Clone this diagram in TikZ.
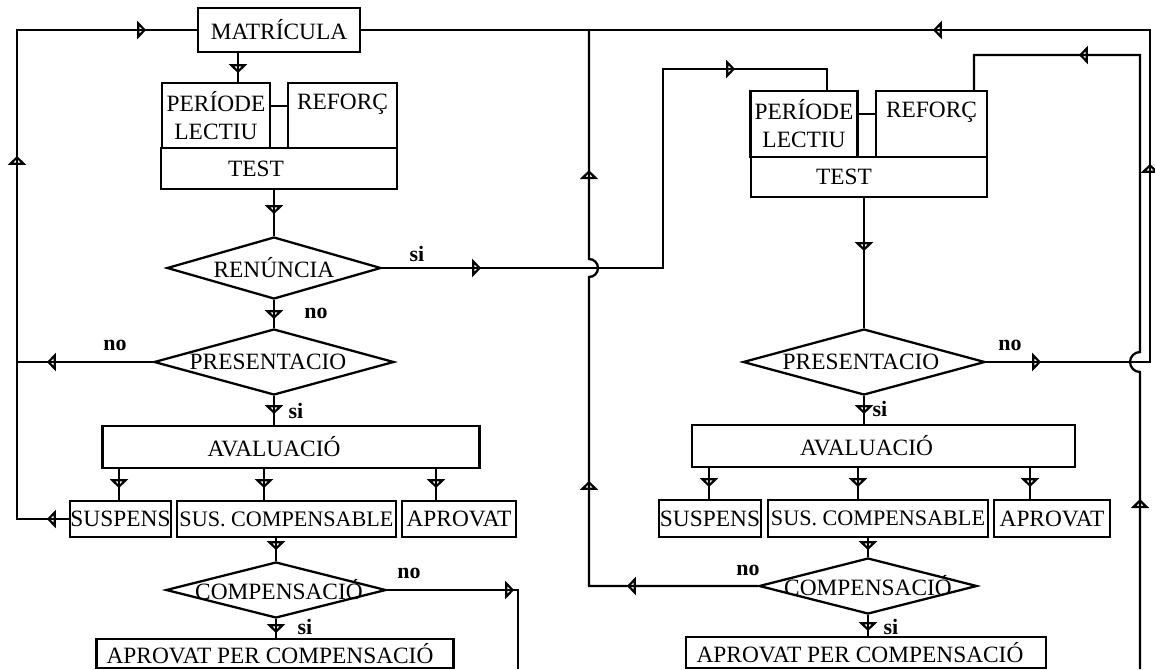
\documentclass[tikz,border=0pt]{standalone}
\usepackage{fontspec}
\setmainfont{Liberation Serif}
\usepackage{tikz}
\usetikzlibrary{arrows.meta, shapes.geometric, decorations.markings, calc}

\begin{document}
\begin{tikzpicture}[x=0.2mm, y=-0.2mm, font=\fontsize{13.3}{16}\selectfont,
    box/.style={draw, line width=1.3pt, inner sep=0pt},
    dec/.style={draw, diamond, line width=1.3pt, inner sep=0pt},
    lnk/.style={line width=1.3pt},
    mk/.style={postaction={decorate, decoration={markings,
               mark=at position #1 with {\arrow{Triangle[open, length=0.18cm, width=0.36cm]}}}}},
    yn/.style={font=\fontsize{12.5}{14}\selectfont\bfseries}]
  \useasboundingbox (0,0) rectangle (1155,669);

  % corners of the return lines
  \coordinate (k1) at (238,0);
  \coordinate (l) at (17,0);
  \coordinate (o) at (1150,0);
  \coordinate (m) at (589,0);
  \coordinate (ss1) at (663,69);
  \coordinate (ss2) at (827,69);
  \coordinate (rr1) at (1140,55);
  \coordinate (rr2) at (974,55);
  \coordinate (endl) at (518,669);
  \coordinate (endr) at (1140,669);

  % first course
  \node[box, minimum width=3.24cm, minimum height=0.88cm] (mat1) at (279,30) {MATRÍCULA};
  \node[box, minimum width=2.17cm, minimum height=1.30cm, align=center] (per1) at (216,115.5) {PERÍODE\\LECTIU};
  \node[box, minimum width=2.18cm, minimum height=1.30cm, align=center] (ref1) at (342.5,115.5) {REFORÇ\\~};
  \node[box, minimum width=4.71cm, minimum height=0.82cm,
        label={[name=tstt1, xshift=-0.46cm]center:TEST}] (tst1) at (279,168.5) {};
  \node[dec, minimum width=4.28cm, minimum height=1.24cm,
        label={[name=rent1]center:RENÚNCIA}] (ren1) at (274,268) {};
  \node[dec, minimum width=4.80cm, minimum height=1.32cm,
        label={[name=pret1, xshift=-0.12cm]center:PRESENTACIO}] (pre1) at (274,362) {};
  \node[box, minimum width=7.54cm, minimum height=0.84cm,
        label={[name=avat1, xshift=-0.34cm]center:AVALUACIÓ}] (ava1) at (291,447) {};
  \node[box, minimum width=2.02cm, minimum height=0.72cm] (sus1) at (120.5,519) {SUSPENS};
  \node[box, minimum width=4.38cm, minimum height=0.72cm,
        font=\fontsize{12.6}{16}\selectfont] (suc1) at (286.5,519) {SUS. COMPENSABLE};
  \node[box, minimum width=2.28cm, minimum height=0.72cm] (apr1) at (459,519) {APROVAT};
  \node[dec, minimum width=4.40cm, minimum height=1.12cm,
        label={[name=comt1, xshift=0.06cm]center:COMPENSACIÓ}] (com1) at (276,590) {};
  \node[box, minimum width=7.14cm, minimum height=0.58cm,
        label={[name=apct1, xshift=-0.1cm]center:APROVAT PER COMPENSACIÓ}] (apc1) at (275,653.5) {};

  % second course
  \node[box, minimum width=2.14cm, minimum height=1.32cm, align=center] (per2) at (804,124) {PERÍODE\\LECTIU};
  \node[box, minimum width=2.22cm, minimum height=1.32cm, align=center] (ref2) at (931.5,124) {REFORÇ\\~};
  \node[box, minimum width=4.73cm, minimum height=0.80cm,
        label={[name=tstt2, xshift=-0.5cm]center:TEST}] (tst2) at (869,177) {};
  \node[dec, minimum width=4.84cm, minimum height=1.32cm,
        label={[name=pret2, xshift=-0.06cm]center:PRESENTACIO}] (pre2) at (864,362) {};
  \node[box, minimum width=7.66cm, minimum height=0.84cm,
        label={[name=avat2, xshift=-0.34cm]center:AVALUACIÓ}] (ava2) at (883.5,446) {};
  \node[box, minimum width=2.05cm, minimum height=0.74cm] (sus2) at (710,518.5) {SUSPENS};
  \node[box, minimum width=4.40cm, minimum height=0.74cm,
        font=\fontsize{12.6}{16}\selectfont] (suc2) at (878,518.5) {SUS. COMPENSABLE};
  \node[box, minimum width=2.32cm, minimum height=0.74cm] (apr2) at (1052,518.5) {APROVAT};
  \node[dec, minimum width=4.36cm, minimum height=1.12cm,
        label={[name=comt2]center:COMPENSACIÓ}] (com2) at (868,586) {};
  \node[box, minimum width=7.20cm, minimum height=0.62cm,
        label={[name=apct2, xshift=-0.12cm]center:APROVAT PER COMPENSACIÓ}] (apc2) at (866,652.5) {};

  % si / no
  \node[yn] (si1) at (417,254) {si};
  \node[yn] (no1) at (316,313) {no};
  \node[yn] (no2) at (115,345) {no};
  \node[yn] (si2) at (296,411) {si};
  \node[yn] (no3) at (409,573) {no};
  \node[yn] (si3) at (305,627) {si};
  \node[yn] (no4) at (1010,345) {no};
  \node[yn] (si4) at (880,409) {si};
  \node[yn] (no5) at (748,570) {no};
  \node[yn] (si5) at (891,627) {si};

  % downward flow
  \draw[lnk, mk=0.4cm] (mat1.south -| k1) -- (per1.north -| k1);
  \draw[lnk] ([yshift=0.19cm]per1.east) -- ([yshift=0.19cm]ref1.west);
  \draw[lnk, mk=0.48cm] (tst1.south -| ren1.north) -- (ren1.north);
  \draw[lnk, mk=0.38cm] (ren1.south) -- (pre1.north);
  \draw[lnk, mk=0.36cm] (pre1.south) -- (pre1.south |- ava1.north);
  \draw[lnk, mk=0.24cm] (suc1.south -| com1.north) -- (com1.north);
  \draw[lnk, mk=0.28cm] (com1.south) -- (com1.south |- apc1.north);
  \draw[lnk] ([yshift=0.2cm]per2.east) -- ([yshift=0.2cm]ref2.west);
  \draw[lnk, mk=1.06cm] (tst2.south -| pre2.north) -- (pre2.north);
  \draw[lnk, mk=0.36cm] (pre2.south) -- (pre2.south |- ava2.north);
  \draw[lnk, mk=0.24cm] (suc2.south -| com2.north) -- (com2.north);
  \draw[lnk, mk=0.32cm] (com2.south) -- (com2.south |- apc2.north);
  \foreach \a/\b/\x in {ava1/sus1/119, ava1/suc1/264, ava1/apr1/436,
                        ava2/sus2/709, ava2/suc2/858, ava2/apr2/1030} {
    \coordinate (kk) at (\x,0);
    \draw[lnk, mk=0.38cm] (kk |- \a.south) -- (kk |- \b.north);
  }

  % return lines
  \draw[lnk, mk=0.44cm, mk=8.3cm, mk=13.4cm]
    (sus1.west) -- (sus1.west -| l) -- (l |- mat1.west) -- (mat1.west);
  \draw[lnk, mk=2.12cm] (pre1.west) -- (pre1.west -| l);
  \draw[lnk, mk=1.1cm, mk=7.24cm, mk=14.26cm]
    (pre2.east) -- (pre2.east -| o) -- (o |- mat1.east) -- (mat1.east);
  \draw[lnk, mk=2.62cm, mk=5.48cm, mk=11.9cm]
    (com2.west) -- (com2.west -| m) -- ($(m |- ren1.east)+(0,9)$)
    arc[start angle=-90, end angle=90, radius=0.18cm] -- (m |- mat1.east);
  \draw[lnk, mk=1.98cm, mk=11.04cm]
    (ren1.east) -| (ss1) -- (ss2) -- (ss2 |- per2.north);
  \draw[lnk, mk=2.54cm] (com1.east) -| (endl);
  \draw[lnk, mk=3.4cm, mk=13.73cm]
    (endr) -- ($(endr |- pre2.east)+(0,10)$)
    arc[start angle=-90, end angle=-270, radius=0.2cm] -- (rr1) -- (rr2) -- (rr2 |- ref2.north);
\end{tikzpicture}
\end{document}
